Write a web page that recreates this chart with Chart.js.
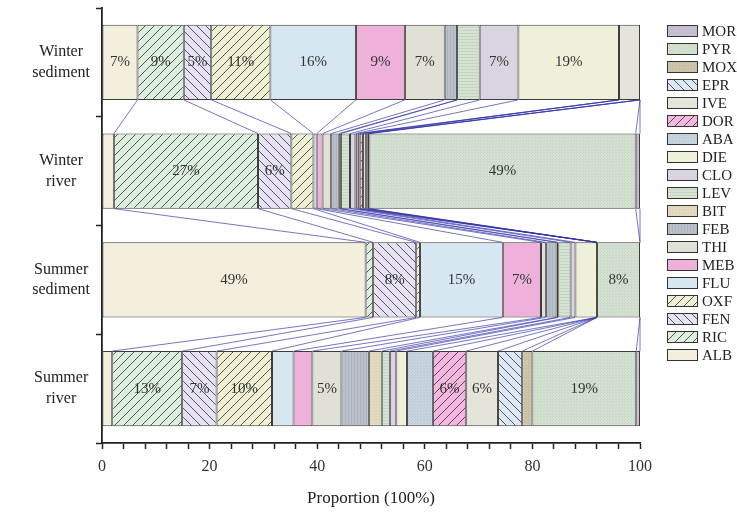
<!DOCTYPE html>
<html><head><meta charset="utf-8">
<script src="https://cdn.jsdelivr.net/npm/chart.js@4"></script>
<style>html,body{margin:0;padding:0;background:#fff}canvas{display:block}</style>
</head><body>
<canvas id="c" width="737" height="517"></canvas>
<script>
// ---------- DATA ----------
const categories = [['Winter', 'sediment'], ['Winter', 'river'], ['Summer', 'sediment'], ['Summer', 'river']];
const seriesNames = ['ALB','RIC','FEN','OXF','FLU','MEB','THI','FEB','BIT','LEV','CLO','DIE','ABA','DOR','IVE','EPR','MOX','PYR','MOR'];
//                     ALB  RIC  FEN  OXF  FLU  MEB  THI  FEB  BIT  LEV  CLO  DIE  ABA  DOR  IVE  EPR  MOX  PYR  MOR
const winterSediment = [6.6, 8.6, 5.1,11.0,15.9, 9.1, 7.4, 2.3, 0.0, 4.2, 7.2,18.7, 0.0, 0.0, 3.9, 0.0, 0.0, 0.0, 0.0];
const winterRiver    = [2.2,26.8, 6.2, 4.1, 0.6, 1.1, 1.6, 1.4, 0.4, 1.7, 1.0, 0.4, 0.4, 0.6, 0.6, 0.3, 0.3,49.5, 0.8];
const summerSediment = [49.0,1.4, 8.0, 0.7,15.4, 7.1, 0.9, 2.0, 0.3, 2.3, 0.9, 4.0, 0.0, 0.0, 0.0, 0.0, 0.0, 8.0, 0.0];
const summerRiver    = [1.9,13.0, 6.4,10.3, 4.0, 3.5, 5.4, 5.1, 2.4, 1.5, 1.2, 2.0, 4.8, 6.2, 5.9, 4.5, 1.9,19.3, 0.7];
const winterSedimentLabels = ['7%','9%','5%','11%','16%','9%','7%','','','','7%','19%','','','','','','',''];
const winterRiverLabels    = ['','27%','6%','','','','','','','','','','','','','','','49%',''];
const summerSedimentLabels = ['49%','','8%','','15%','7%','','','','','','','','','','','','8%',''];
const summerRiverLabels    = ['','13%','7%','10%','','','5%','','','','','','','6%','6%','','','19%',''];
const xTickLabels = [0, 20, 40, 60, 80, 100];
const xTitle = 'Proportion (100%)';

const rowValues = [winterSediment, winterRiver, summerSediment, summerRiver];
const rowLabels = [winterSedimentLabels, winterRiverLabels, summerSedimentLabels, summerRiverLabels];

// ---------- STYLES ----------
const baseColors = ['#f3efdc','#dcefdc','#e6e2f3','#f0efd3','#d6e7f1','#eeb1da','#e1e0d7','#b9c0c9','#e3dac0','#d4e3d2','#dad4e2','#f0f0da','#c7d5df','#f3b7e0','#e5e4d9','#dce8f4','#cec5ad','#d3e1d1','#c9c0d4'];
const patternTypes = ['none','slash','back','slash','none','none','none','vlines','dots','hlines','none','none','dots','slash','none','back','dots','dots','dots'];

function makePattern(base, type) {
  const s = type === 'slash' || type === 'back' ? 9 : 3;
  const cv = document.createElement('canvas');
  cv.width = s; cv.height = s;
  const g = cv.getContext('2d');
  g.fillStyle = base; g.fillRect(0, 0, s, s);
  if (type === 'slash' || type === 'back') {
    g.strokeStyle = 'rgba(50,50,50,0.9)'; g.lineWidth = 0.9;
    g.beginPath();
    for (const o of [-s, 0, s]) {
      if (type === 'slash') { g.moveTo(o, s); g.lineTo(o + s, 0); }
      else { g.moveTo(o, 0); g.lineTo(o + s, s); }
    }
    g.stroke();
  } else if (type === 'dots') {
    g.fillStyle = 'rgba(0,0,0,0.06)'; g.fillRect(0, 0, 1, 1); g.fillRect(1, 2, 1, 1);
  } else if (type === 'hlines') {
    g.fillStyle = 'rgba(0,0,0,0.07)'; g.fillRect(0, 0, s, 1);
  } else if (type === 'vlines') {
    g.fillStyle = 'rgba(0,0,0,0.06)'; g.fillRect(0, 0, 1, s);
  } else {
    return base;
  }
  return g.createPattern(cv, 'repeat');
}
const fills = baseColors.map((c, i) => makePattern(c, patternTypes[i]));

const datasets = seriesNames.map((name, i) => ({
  label: name,
  data: rowValues.map(row => row[i]),
  backgroundColor: fills[i],
  borderColor: '#3c3c3c',
  borderWidth: 1,
  borderSkipped: false,
  categoryPercentage: 0.69,
  barPercentage: 1.0
}));

const SERIF = '"Liberation Serif", "Times New Roman", serif';

const connectorPlugin = {
  id: 'connectors',
  beforeDatasetsDraw(chart) {
    const ctx = chart.ctx, xs = chart.scales.x;
    const meta = chart.getDatasetMeta(0);
    ctx.save();
    ctx.strokeStyle = 'rgba(50,50,170,0.75)';
    ctx.lineWidth = 0.9;
    for (let r = 0; r < rowValues.length - 1; r++) {
      const a = meta.data[r], b = meta.data[r + 1];
      const y1 = a.y + a.height / 2, y2 = b.y - b.height / 2;
      let c1 = 0, c2 = 0;
      for (let i = 0; i < seriesNames.length; i++) {
        c1 += rowValues[r][i]; c2 += rowValues[r + 1][i];
        ctx.beginPath();
        ctx.moveTo(xs.getPixelForValue(Math.min(c1, 100)), y1);
        ctx.lineTo(xs.getPixelForValue(Math.min(c2, 100)), y2);
        ctx.stroke();
      }
    }
    ctx.restore();
  }
};

const labelPlugin = {
  id: 'barLabels',
  afterDatasetsDraw(chart) {
    const ctx = chart.ctx;
    ctx.save();
    ctx.font = '15px ' + SERIF;
    ctx.fillStyle = '#333';
    ctx.textAlign = 'center';
    ctx.textBaseline = 'middle';
    seriesNames.forEach((n, i) => {
      const meta = chart.getDatasetMeta(i);
      rowLabels.forEach((labels, r) => {
        const t = labels[i];
        if (!t) return;
        const el = meta.data[r];
        ctx.fillText(t, (el.x + el.base) / 2, el.y);
      });
    });
    ctx.restore();
  }
};

const legendPlugin = {
  id: 'customLegend',
  afterDraw(chart) {
    const ctx = chart.ctx;
    ctx.save();
    ctx.font = '15px ' + SERIF;
    ctx.textBaseline = 'middle';
    ctx.textAlign = 'left';
    const order = seriesNames.map((n, i) => i).reverse();
    order.forEach((i, k) => {
      const cy = 31 + k * 18;
      ctx.fillStyle = fills[i];
      ctx.fillRect(667, cy - 6, 31, 12);
      ctx.strokeStyle = '#333';
      ctx.lineWidth = 1;
      ctx.strokeRect(667.5, cy - 5.5, 30, 11);
      ctx.fillStyle = '#222';
      ctx.fillText(seriesNames[i], 702, cy + 1);
    });
    ctx.restore();
  }
};

new Chart(document.getElementById('c'), {
  type: 'bar',
  data: { labels: categories, datasets },
  options: {
    indexAxis: 'y',
    responsive: false,
    animation: false,
    devicePixelRatio: 1,
    layout: { padding: { left: 0, right: 97, top: 8, bottom: 0 } },
    plugins: { legend: { display: false }, tooltip: { enabled: false } },
    scales: {
      x: {
        type: 'linear', stacked: true, min: 0, max: 100,
        afterFit(s) { s.height = 74; s.paddingLeft = 0; s.paddingRight = 0; },
        afterBuildTicks(s) { s.ticks = []; for (let v = 0; v <= 100; v += 4) s.ticks.push({ value: v }); },
        ticks: {
          autoSkip: false, maxRotation: 0, padding: 8, color: '#333',
          font: { family: SERIF, size: 16 },
          callback: v => xTickLabels.includes(v) ? String(v) : ''
        },
        grid: { drawOnChartArea: false, tickLength: 6, tickColor: '#222', tickWidth: 1.5 },
        border: { color: '#222', width: 1.8 },
        title: { display: true, text: xTitle, color: '#222', font: { family: SERIF, size: 17 }, padding: { top: 4, bottom: 8 } }
      },
      y: {
        type: 'category', stacked: true,
        afterFit(s) { s.width = 102; s.paddingTop = 0; s.paddingBottom = 0; },
        ticks: { color: '#222', crossAlign: 'center', padding: 6, font: { family: SERIF, size: 16, lineHeight: 1.3 } },
        grid: { offset: true, drawOnChartArea: false, tickLength: 6, tickColor: '#222', tickWidth: 1.5 },
        border: { color: '#222', width: 1.8 }
      }
    }
  },
  plugins: [connectorPlugin, labelPlugin, legendPlugin]
});
</script>
</body></html>
